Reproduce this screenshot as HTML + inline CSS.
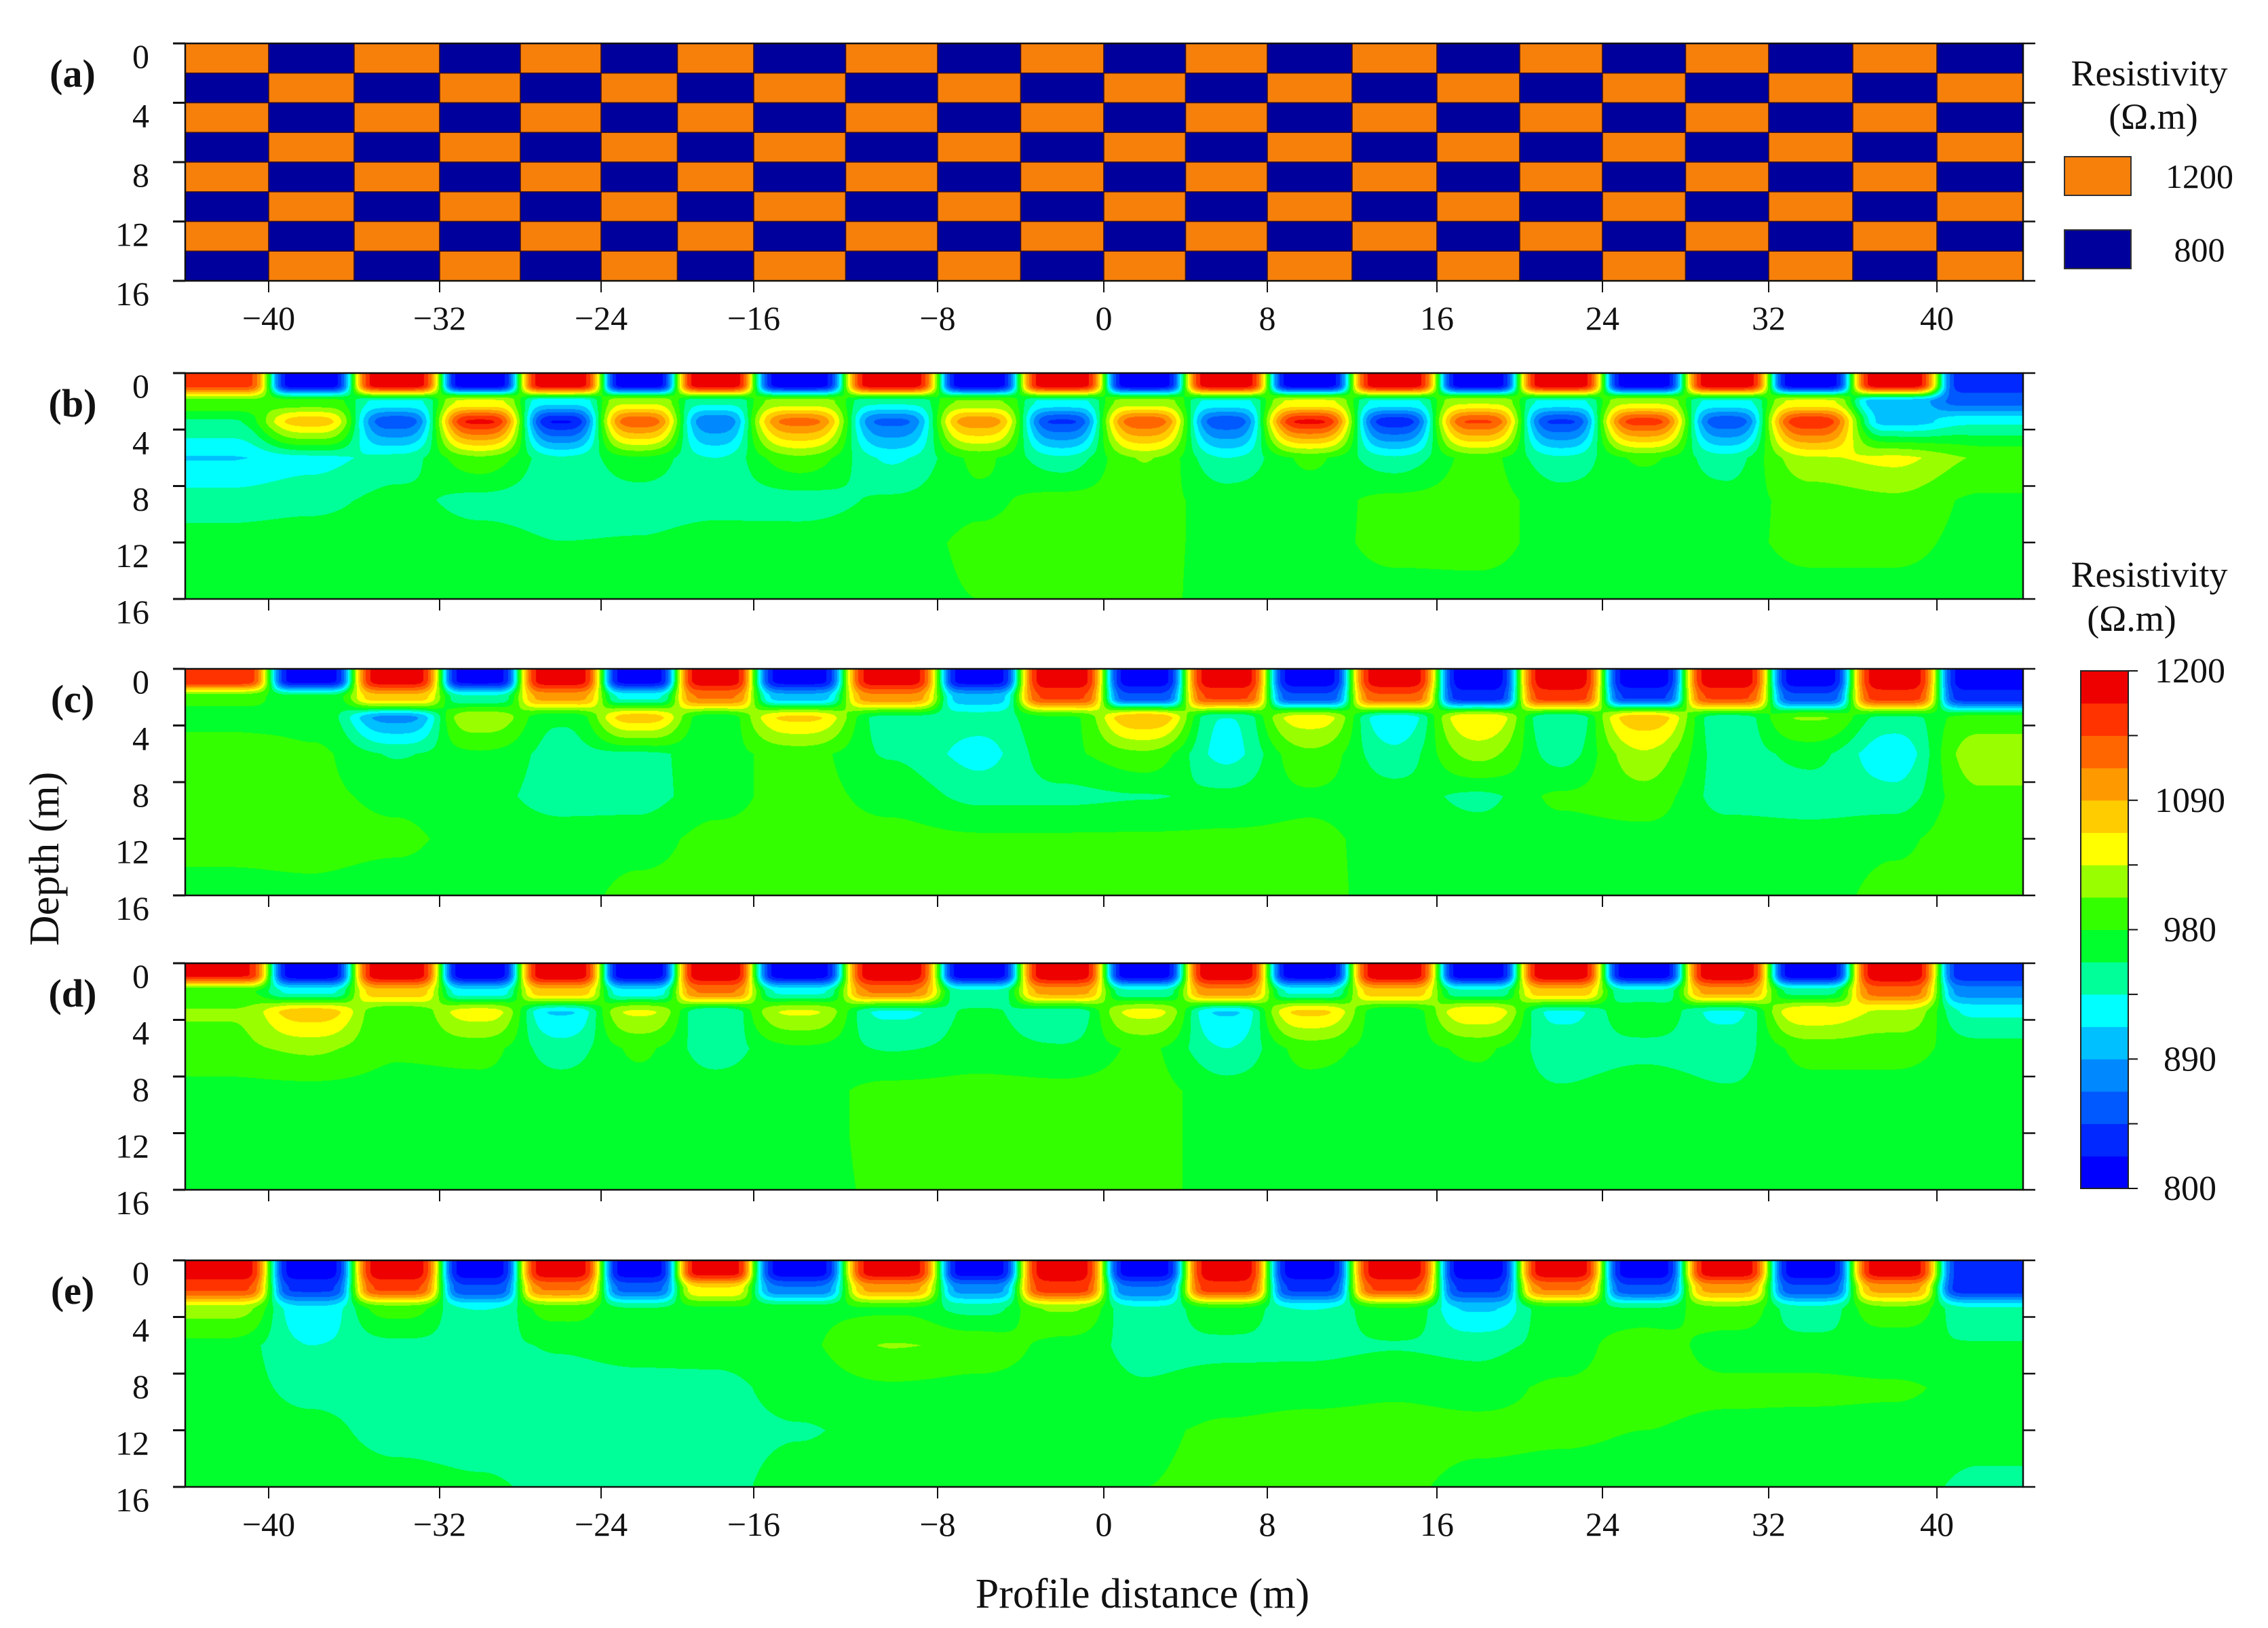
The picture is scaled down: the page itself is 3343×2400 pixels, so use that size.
<!DOCTYPE html>
<html><head><meta charset="utf-8">
<style>
html,body{margin:0;padding:0;background:#fff;}
#root{position:relative;width:3343px;height:2400px;overflow:hidden;background:#fff;}
canvas{position:absolute;}
svg{position:absolute;left:0;top:0;}
text{font-family:"Liberation Serif",serif;fill:#111;}
</style></head>
<body>
<div id="root">
<canvas id="cb" width="2709" height="333" style="left:273px;top:550px"></canvas>
<canvas id="cc" width="2709" height="334" style="left:273px;top:986px"></canvas>
<canvas id="cd" width="2709" height="334" style="left:273px;top:1420px"></canvas>
<canvas id="ce" width="2709" height="334" style="left:273px;top:1858px"></canvas>
<svg id="svg" width="3343" height="2400"></svg>
</div>
<script>
// ---- axis ticks / labels ----
const xTickVals=[-40,-32,-24,-16,-8,0,8,16,24,32,40];
const yTickVals=[0,4,8,12,16];
const cbTickVals=[800,845,890,935,980,1035,1090,1145,1200];
const cbLabelVals=[800,890,980,1090,1200];
// ---- colour levels ----
const levelBounds=[800,822.5,845,867.5,890,912.5,935,957.5,980,1007.5,1035,1062.5,1090,1117.5,1145,1172.5,1200];
const levelColors=["#0000ff","#0028ff","#0058ff","#0088ff","#00c0ff","#00ffff","#00ff99","#00ff2c","#33ff00","#99ff00","#ffff00","#ffcc00","#ff9900","#ff6600","#ff3300","#ee0000"];
// ---- model (a) ----
const blockCenters=[-42,-38,-34,-30,-26,-22,-18,-14,-10,-6,-2,2,6,10,14,18,22,26,30,34,38,42];
const modelRows=[
[1200,800,1200,800,1200,800,1200,800,1200,800,1200,800,1200,800,1200,800,1200,800,1200,800,1200,800],
[800,1200,800,1200,800,1200,800,1200,800,1200,800,1200,800,1200,800,1200,800,1200,800,1200,800,1200],
[1200,800,1200,800,1200,800,1200,800,1200,800,1200,800,1200,800,1200,800,1200,800,1200,800,1200,800],
[800,1200,800,1200,800,1200,800,1200,800,1200,800,1200,800,1200,800,1200,800,1200,800,1200,800,1200],
[1200,800,1200,800,1200,800,1200,800,1200,800,1200,800,1200,800,1200,800,1200,800,1200,800,1200,800],
[800,1200,800,1200,800,1200,800,1200,800,1200,800,1200,800,1200,800,1200,800,1200,800,1200,800,1200],
[1200,800,1200,800,1200,800,1200,800,1200,800,1200,800,1200,800,1200,800,1200,800,1200,800,1200,800],
[800,1200,800,1200,800,1200,800,1200,800,1200,800,1200,800,1200,800,1200,800,1200,800,1200,800,1200]];
// ---- inversion grids: rows at these depths, columns at blockCenters ----
const depthRows=[0.8,2,3.5,6,9,12,16];
const panelB=[
[1160,805,1195,805,1195,805,1195,805,1195,805,1195,805,1195,805,1195,805,1195,805,1195,805,1195,830],
[1000,990,930,1040,920,1030,940,1020,940,1010,930,1020,930,1040,930,1030,930,1030,930,1040,900,860],
[955,1080,850,1180,820,1140,870,1130,860,1110,840,1140,850,1180,830,1150,840,1160,850,1170,900,930],
[910,925,945,1000,940,975,935,1000,930,985,940,1010,935,985,940,990,940,985,945,1030,1045,1005],
[945,950,965,948,945,945,948,945,962,975,990,988,972,968,988,990,970,962,968,990,1000,975],
[968,970,970,968,958,960,968,970,970,985,990,988,972,970,988,990,970,970,972,988,988,972],
[970,970,970,970,970,970,970,970,970,980,990,988,970,970,970,970,970,970,970,970,970,970]];
const panelC=[
[1170,810,1190,810,1190,810,1190,810,1190,810,1190,810,1190,810,1190,810,1190,810,1190,810,1190,810],
[990,965,1080,940,1100,930,1120,900,1110,900,1150,850,1150,850,1140,830,1160,840,1150,850,1160,830],
[965,970,880,1030,960,1080,965,1070,950,945,975,1090,935,1050,920,1060,935,1080,945,1010,950,990],
[1005,985,955,975,950,950,970,990,955,925,975,1000,925,1000,940,1020,945,1030,945,965,915,1030],
[990,985,975,965,948,948,970,990,972,950,950,955,965,975,970,950,985,995,948,945,945,1000],
[988,988,985,970,968,970,988,988,988,985,985,985,985,985,972,970,970,970,970,968,975,998],
[972,975,970,970,970,988,988,988,988,988,988,988,988,988,970,970,970,970,970,970,988,990]];
const panelD=[
[1180,805,1195,805,1195,805,1195,805,1195,805,1195,805,1195,805,1195,805,1195,805,1195,805,1195,830],
[985,930,1080,920,1080,920,1120,930,1120,940,1100,940,1110,930,1080,940,1080,940,1100,950,1130,880],
[1010,1080,985,1050,910,1040,935,1040,930,960,940,1045,910,1070,960,1060,930,975,930,1060,1030,930],
[1000,1015,985,990,945,985,945,975,955,965,960,985,935,990,968,985,945,950,945,990,990,968],
[970,970,970,970,970,970,970,970,988,990,988,988,970,970,970,970,960,970,960,970,970,970],
[970,970,970,970,970,970,970,970,988,988,988,988,970,970,970,970,970,970,970,970,970,970],
[970,970,970,970,970,970,970,970,985,988,988,988,970,970,970,970,970,970,970,970,970,970]];
const panelE=[
[1190,810,1190,810,1190,810,1190,810,1190,810,1190,810,1190,810,1190,810,1190,810,1190,810,1190,830],
[1150,840,1150,850,1120,860,1060,870,1100,880,1160,870,1160,840,1150,840,1120,850,1100,850,1100,830],
[1020,920,990,935,990,960,975,975,975,950,1010,940,975,935,975,910,970,960,1000,945,1000,940],
[970,935,950,950,960,968,970,975,1010,1000,970,950,950,950,955,950,965,1000,965,965,960,960],
[968,950,948,948,948,948,948,968,975,970,968,960,968,970,975,970,985,990,988,988,985,970],
[968,965,948,945,945,945,948,955,968,970,972,975,985,990,990,988,985,980,972,970,970,970],
[970,970,968,962,950,945,948,968,970,970,970,980,988,990,985,972,970,970,970,970,970,950]];

// ---- scales ----
const xCalM=[-44,-40,-32,-24,-16,-8,0,8,16,24,32,40,44];
const xCalPx=[273,396,648,886,1111,1382,1627,1868,2118,2362,2607,2855,2982];
function xScale(m){
  for(let i=0;i<xCalM.length-1;i++){
    if(m<=xCalM[i+1]||i===xCalM.length-2){
      const t=(m-xCalM[i])/(xCalM[i+1]-xCalM[i]);
      return xCalPx[i]+t*(xCalPx[i+1]-xCalPx[i]);
    }
  }
}
function xInv(px){
  for(let i=0;i<xCalPx.length-1;i++){
    if(px<=xCalPx[i+1]||i===xCalPx.length-2){
      const t=(px-xCalPx[i])/(xCalPx[i+1]-xCalPx[i]);
      return xCalM[i]+t*(xCalM[i+1]-xCalM[i]);
    }
  }
}
const panels=[
 {id:'a',top:64,bottom:414,labels:true},
 {id:'b',top:550,bottom:883,grid:panelB,canvas:'cb'},
 {id:'c',top:986,bottom:1320,grid:panelC,canvas:'cc'},
 {id:'d',top:1420,bottom:1754,grid:panelD,canvas:'cd'},
 {id:'e',top:1858,bottom:2192,grid:panelE,canvas:'ce',labels:true}];
const X0=273,X1=2982;
function yScale(p,d){return p.top+d/16*(p.bottom-p.top);}
function levelOf(v){
  for(let i=0;i<levelColors.length;i++){ if(v<levelBounds[i+1]) return i; }
  return levelColors.length-1;
}
function hexRGB(h){return [parseInt(h.substr(1,2),16),parseInt(h.substr(3,2),16),parseInt(h.substr(5,2),16)];}
const rgbLevels=levelColors.map(hexRGB);
function ss(t){return t*t*(3-2*t);}

// ---- heatmaps ----
panels.forEach(p=>{
  if(!p.grid) return;
  const cv=document.getElementById(p.canvas);
  const W=cv.width,H=cv.height,ctx=cv.getContext('2d');
  const img=ctx.createImageData(W,H);
  const nR=depthRows.length,nC=blockCenters.length;
  const colVals=new Array(W);
  for(let px=0;px<W;px++){
    const m=xInv(X0+px+0.5);
    let u=(m-blockCenters[0])/(blockCenters[1]-blockCenters[0]);
    u=Math.max(0,Math.min(nC-1,u));
    let k=Math.min(nC-2,Math.floor(u)); const t0=u-k;
    const tSharp=ss(ss(ss(t0))), tSoft=ss(t0);
    const arr=[];
    for(let r=0;r<nR;r++){
      const t=r<2?tSharp:(r<3?ss(ss(t0)):tSoft);
      arr.push(p.grid[r][k]*(1-t)+p.grid[r][k+1]*t);
    }
    colVals[px]=arr;
  }
  for(let py=0;py<H;py++){
    const d=(py+0.5)/H*16;
    let r=0; while(r<nR-2&&d>depthRows[r+1]) r++;
    let t=(d-depthRows[r])/(depthRows[r+1]-depthRows[r]); t=Math.max(0,Math.min(1,t));
    t=r<2?ss(t):t;
    for(let px=0;px<W;px++){
      const cvv=colVals[px];
      const v=cvv[r]*(1-t)+cvv[r+1]*t;
      const c=rgbLevels[levelOf(v)];
      const o=(py*W+px)*4;
      img.data[o]=c[0];img.data[o+1]=c[1];img.data[o+2]=c[2];img.data[o+3]=255;
    }
  }
  ctx.putImageData(img,0,0);
});

// ---- SVG ----
const NS='http://www.w3.org/2000/svg';
const svg=document.getElementById('svg');
function mk(tag,attrs,parent){const e=document.createElementNS(NS,tag);for(const k in attrs)e.setAttribute(k,attrs[k]);(parent||svg).appendChild(e);return e;}

// model checkerboard
const pa=panels[0];
const gA=mk('g',{});


modelRows.forEach((row,ri)=>{
  row.forEach((v,ci)=>{
    const xl=xScale(blockCenters[ci]-2),xr=xScale(blockCenters[ci]+2);
    const yt=yScale(pa,ri*2),yb=yScale(pa,ri*2+2);
    const r=mk('rect',{x:xl,y:yt,width:xr-xl,height:yb-yt,fill:v>1000?'#f7800a':'#00009c',stroke:'#3a1020','stroke-width':1.5},gA);
    
    
  });
});

panels.forEach(p=>{
  const g=mk('g',{});
  
  
  const fr=mk('rect',{x:X0,y:p.top,width:X1-X0,height:p.bottom-p.top,fill:'none',stroke:'#111','stroke-width':2.5},g);
  
  
  yTickVals.forEach(v=>{
    const y=yScale(p,v);
    const l=mk('line',{x1:X0-18,x2:X0,y1:y,y2:y,stroke:'#111','stroke-width':3},g);
    
    
    const r=mk('line',{x1:X1,x2:X1+18,y1:y,y2:y,stroke:'#111','stroke-width':2.5},g);
    
    
    const t=mk('text',{x:220,y:y+36,'font-size':50,'text-anchor':'end'},g);
    t.textContent=String(v);
    
    
  });
  xTickVals.forEach(v=>{
    const x=xScale(v);
    const l=mk('line',{x1:x,x2:x,y1:p.bottom,y2:p.bottom+17,stroke:'#111','stroke-width':2},g);
    
    
    if(p.labels){
      const t=mk('text',{x:x,y:p.bottom+72,'font-size':50,'text-anchor':'middle'},g);
      t.textContent=(v<0?'\u2212':'')+Math.abs(v);
      
      
    }
  });
  const pl=mk('text',{x:107,y:p.top+64,'font-size':58,'font-weight':'bold','text-anchor':'middle'},g);
  pl.textContent='('+p.id+')';
  
  
});

// axis titles
const yt=mk('text',{x:0,y:0,'font-size':62,'text-anchor':'middle',transform:'translate(86,1266) rotate(-90)'});
yt.textContent='Depth (m)';


const xt=mk('text',{x:1684,y:2370,'font-size':62,'text-anchor':'middle'});
xt.textContent='Profile distance (m)';



// model legend
const lg=mk('g',{});


const l1=mk('text',{x:3168,y:126,'font-size':54,'text-anchor':'middle'},lg);
l1.textContent='Resistivity';


const l2=mk('text',{x:3174,y:190,'font-size':54,'text-anchor':'middle'},lg);
l2.textContent='(\u03A9.m)';


const legendVals=[1200,800];
legendVals.forEach((v,i)=>{
  const y=i===0?231:339;
  const s=mk('rect',{x:3043,y:y,width:98,height:57,fill:v>1000?'#f7800a':'#00009c',stroke:'#333','stroke-width':2},lg);
  
  
  const t=mk('text',{x:3242,y:y+46,'font-size':50,'text-anchor':'middle'},lg);
  t.textContent=String(v);
  
  
});

// colorbar
const cbg=mk('g',{});


const c1=mk('text',{x:3168,y:865,'font-size':54,'text-anchor':'middle'},cbg);
c1.textContent='Resistivity';


const c2=mk('text',{x:3142,y:930,'font-size':54,'text-anchor':'middle'},cbg);
c2.textContent='(\u03A9.m)';


const CB={x:3067,w:70,top:989,bottom:1752};
const nL=levelColors.length;
levelColors.forEach((c,i)=>{
  const h=(CB.bottom-CB.top)/nL;
  const r=mk('rect',{x:CB.x,y:CB.bottom-(i+1)*h,width:CB.w,height:h+0.5,fill:c},cbg);
  
  
});
const cbf=mk('rect',{x:CB.x,y:CB.top,width:CB.w,height:CB.bottom-CB.top,fill:'none',stroke:'#222','stroke-width':2},cbg);


cbTickVals.forEach((v,i)=>{
  const y=CB.bottom-i*(CB.bottom-CB.top)/(cbTickVals.length-1);
  const l=mk('line',{x1:CB.x+CB.w,x2:CB.x+CB.w+14,y1:y,y2:y,stroke:'#111','stroke-width':2},cbg);
  
  
  if(cbLabelVals.indexOf(v)>=0){
    const t=mk('text',{x:3228,y:y+17,'font-size':52,'text-anchor':'middle'},cbg);
    t.textContent=String(v);
    
    
  }
});
</script>
</body></html>
